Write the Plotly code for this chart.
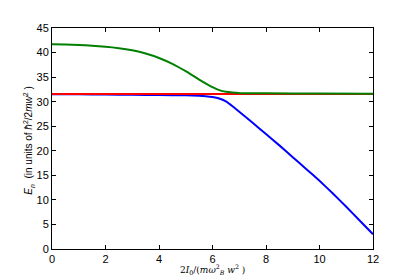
import plotly.graph_objects as go

# data
blue_x = [0, 1, 2, 3, 4, 5, 5.5, 5.75, 6, 6.25, 6.5, 6.75, 7, 7.5, 8, 8.5, 9, 9.5, 10, 10.5, 11, 11.5, 12]
blue_y = [31.5, 31.5, 31.45, 31.4, 31.35, 31.3, 31.2, 31.1, 30.95, 30.65, 30.05, 29.05, 27.95, 25.7, 23.4, 21.1, 18.7, 16.3, 13.9, 11.3, 8.6, 5.8, 3.0]

red_x = [0, 2, 4, 6, 8, 10, 12]
red_y = [31.55, 31.55, 31.55, 31.55, 31.55, 31.55, 31.55]

green_x = [0, 0.5, 1, 1.5, 2, 2.5, 3, 3.5, 4, 4.5, 5, 5.5, 6, 6.25, 6.5, 6.75, 7, 7.5, 8, 10, 12]
green_y = [41.7, 41.65, 41.55, 41.4, 41.2, 40.9, 40.45, 39.8, 38.9, 37.7, 36.2, 34.5, 32.95, 32.35, 32.0, 31.85, 31.75, 31.7, 31.7, 31.65, 31.6]

x_ticks = [0, 2, 4, 6, 8, 10, 12]
y_ticks = [0, 5, 10, 15, 20, 25, 30, 35, 40, 45]

fig = go.Figure()
fig.add_trace(go.Scatter(x=blue_x, y=blue_y, mode="lines",
                         line=dict(color="#0000ff", width=2, shape="spline", smoothing=0.3)))
fig.add_trace(go.Scatter(x=red_x, y=red_y, mode="lines",
                         line=dict(color="#ff0000", width=2)))
fig.add_trace(go.Scatter(x=green_x, y=green_y, mode="lines",
                         line=dict(color="#008000", width=2, shape="spline", smoothing=0.3)))

axis_common = dict(
    showgrid=False, zeroline=False, showline=True, linecolor="black", linewidth=1,
    mirror="ticks", ticks="inside", ticklen=4, tickcolor="black", automargin=False,
    tickfont=dict(family="Liberation Sans, Arial, sans-serif", size=11, color="black"),
)

fig.update_xaxes(range=[0, 12], tickvals=x_ticks, **axis_common)
fig.update_yaxes(range=[0, 45], tickvals=y_ticks, **axis_common)

fig.add_annotation(
    text="2<i>I</i><sub>0</sub>/(<i>mω</i><sup>2</sup><sub><i>B</i></sub> <i>w</i><sup>2</sup> )",
    xref="paper", yref="paper", x=0.5, y=0, yshift=-20, xanchor="center", yanchor="middle",
    showarrow=False, font=dict(family="DejaVu Serif, serif", size=9, color="black"))
fig.add_annotation(
    text="<i>E<sub>n</sub></i>  (in units of <i>ħ</i><sup>2</sup>/2<i>mw</i><sup>2</sup> )",
    xref="paper", yref="paper", x=0, y=0.49, xshift=-23, xanchor="center", yanchor="middle",
    textangle=-90, showarrow=False,
    font=dict(family="Liberation Sans, Arial, sans-serif", size=10, color="black"))

fig.update_layout(
    width=415, height=277,
    margin=dict(l=52, r=42, t=28, b=28),
    paper_bgcolor="white", plot_bgcolor="white",
    showlegend=False,
)

fig.write_html("out.html", config={"displayModeBar": False},
               post_script="document.body.style.margin='0';")
